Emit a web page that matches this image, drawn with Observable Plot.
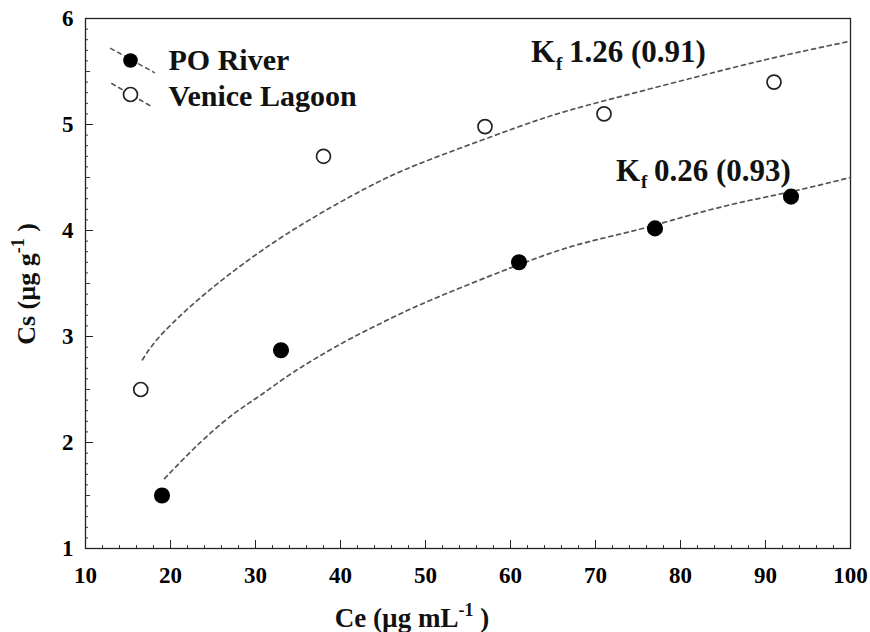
<!DOCTYPE html>
<html>
<head>
<meta charset="utf-8">
<script src="https://cdn.jsdelivr.net/npm/d3@7"></script>
<script src="https://cdn.jsdelivr.net/npm/@observablehq/plot@0.6"></script>
<style>
  html, body { margin: 0; padding: 0; background: #fff; }
  svg text { font-family: "Liberation Serif", "Times New Roman", Tinos, "DejaVu Serif", serif !important; }
</style>
</head>
<body>
<div id="chart"></div>
<script>
// ---- data ----
const poCe = [19, 33, 61, 77, 93];
const poCs = [1.5, 2.87, 3.7, 4.02, 4.32];
const veCe = [16.5, 38, 57, 71, 91];
const veCs = [2.5, 4.7, 4.98, 5.1, 5.4];

// fitted curves
const veFitCe = [16.7, 18.2, 22.2, 26.1, 30.8, 35.8, 43.3, 48.4, 56.9, 64.0, 69.8, 82.4, 90.2, 99.6];
const veFitCs = [2.78, 2.97, 3.28, 3.54, 3.82, 4.08, 4.42, 4.61, 4.86, 5.07, 5.20, 5.46, 5.62, 5.78];
const poFitCe = [19.3, 21.7, 24.1, 27.6, 30.4, 33.9, 37.4, 41.3, 46.4, 48.7, 55.0, 61.0, 66.8, 72.6, 76.2, 81.2, 87.1, 92.9, 100];
const poFitCs = [1.66, 1.86, 2.05, 2.29, 2.43, 2.64, 2.81, 2.99, 3.19, 3.28, 3.49, 3.68, 3.85, 3.96, 4.03, 4.15, 4.27, 4.36, 4.50];

const xTicks = [10, 20, 30, 40, 50, 60, 70, 80, 90, 100];
const yTicks = [1, 2, 3, 4, 5, 6];
const xMinor = d3.range(10, 100.01, 2);
const yMinor = d3.range(1, 6.001, 0.1).map(v => +v.toFixed(1));
const yHalf = [1.5, 2.5, 3.5, 4.5, 5.5];

const legendLabels = ["PO River", "Venice Lagoon"];
const annCe = [62.4, 72.4];
const annCs = [5.68, 4.56];
const annValues = ["1.26 (0.91)", "0.26 (0.93)"];

const toRows = (xs, ys) => xs.map((x, i) => ({x, y: ys[i]}));
const po = toRows(poCe, poCs);
const ve = toRows(veCe, veCs);
const poFit = toRows(poFitCe, poFitCs);
const veFit = toRows(veFitCe, veFitCs);
const ann = annCe.map((x, i) => ({x, y: annCs[i], t: annValues[i]}));

const serif = "Liberation Serif, Times New Roman, serif";
const legendLine = {draw(ctx, l) { ctx.moveTo(0, 0); ctx.lineTo(0, -l); }};
const intFmt = d => String(d);

const svg = Plot.plot({
  width: 870,
  height: 632,
  marginLeft: 85,
  marginRight: 20,
  marginTop: 18,
  marginBottom: 84,
  style: {fontFamily: serif, background: "white", color: "black"},
  x: {domain: [10, 100], label: null},
  y: {domain: [1, 6], label: null},
  marks: [
    Plot.frame({stroke: "#222", strokeWidth: 1.3}),
    Plot.axisX({ticks: xMinor, tickSize: -3, tickFormat: () => "", label: null, stroke: "#333"}),
    Plot.axisX({ticks: xTicks, tickSize: -8, tickPadding: 26, tickFormat: intFmt, fontSize: 23, fontWeight: "bold", label: null, stroke: "#222"}),
    Plot.axisY({ticks: yMinor, tickSize: -3, tickFormat: () => "", label: null, stroke: "#333"}),
    Plot.axisY({ticks: yHalf, tickSize: -5, tickFormat: () => "", label: null, stroke: "#333"}),
    Plot.axisY({ticks: yTicks, tickSize: -8, tickPadding: 20, tickFormat: intFmt, fontSize: 23, fontWeight: "bold", label: null, stroke: "#222"}),

    Plot.line(veFit, {x: "x", y: "y", curve: "basis", stroke: "#555", strokeWidth: 1.7, strokeDasharray: "4,4"}),
    Plot.line(poFit, {x: "x", y: "y", curve: "basis", stroke: "#555", strokeWidth: 1.7, strokeDasharray: "4,4"}),

    Plot.dot(po, {x: "x", y: "y", r: 7.3, fill: "black", stroke: "black"}),
    Plot.dot(ve, {x: "x", y: "y", r: 7, fill: "white", stroke: "#222", strokeWidth: 1.7}),

    // legend
    Plot.vector([0], {frameAnchor: "top-left", dx: 47, dy: 42, length: 50, rotate: 119, anchor: "middle", shape: legendLine, stroke: "#555", strokeWidth: 1.5, strokeDasharray: "4,4"}),
    Plot.vector([0], {frameAnchor: "top-left", dx: 47, dy: 77, length: 48, rotate: 120, anchor: "middle", shape: legendLine, stroke: "#555", strokeWidth: 1.5, strokeDasharray: "4,4"}),
    Plot.dot([0], {frameAnchor: "top-left", dx: 45, dy: 42, r: 7.3, fill: "black"}),
    Plot.dot([0], {frameAnchor: "top-left", dx: 45, dy: 76, r: 7, fill: "white", stroke: "#222", strokeWidth: 1.7}),
    Plot.text([legendLabels[0]], {frameAnchor: "top-left", lineAnchor: "middle", dx: 83, dy: 42, text: d => d, textAnchor: "start", fontSize: 30, fontWeight: "bold", fill: "#111"}),
    Plot.text([legendLabels[1]], {frameAnchor: "top-left", lineAnchor: "middle", dx: 83, dy: 78, text: d => d, textAnchor: "start", fontSize: 30, fontWeight: "bold", fill: "#111"}),

    // Kf annotations
    Plot.text(ann, {x: "x", y: "y", text: () => "K", textAnchor: "start", fontSize: 31, fontWeight: "bold", fill: "#111"}),
    Plot.text(ann, {x: "x", y: "y", text: () => "f", textAnchor: "start", dx: 25, dy: 11, fontSize: 19, fontWeight: "bold", fill: "#111"}),
    Plot.text(ann, {x: "x", y: "y", text: "t", textAnchor: "start", dx: 38, fontSize: 31, fontWeight: "bold", fill: "#111"})
  ]
});

const s = d3.select(svg);
// x-axis title with superscript
const xt = s.append("text")
  .attr("x", 412).attr("y", 627)
  .attr("text-anchor", "middle")
  .attr("font-family", serif).attr("font-weight", "bold").attr("font-size", 27).attr("fill", "#111");
xt.append("tspan").text("Ce (µg mL");
xt.append("tspan").attr("dy", -11).attr("font-size", 18).text("-1");
xt.append("tspan").attr("dy", 11).text(" )");

// y-axis title with superscript, rotated
const yt = s.append("text")
  .attr("transform", "translate(35,284) rotate(-90)")
  .attr("text-anchor", "middle")
  .attr("font-family", serif).attr("font-weight", "bold").attr("font-size", 26).attr("fill", "#111");
yt.append("tspan").text("Cs (µg g");
yt.append("tspan").attr("dy", -11).attr("font-size", 18).text("-1");
yt.append("tspan").attr("dy", 11).text(" )");

document.getElementById("chart").appendChild(svg);
</script>
</body>
</html>
